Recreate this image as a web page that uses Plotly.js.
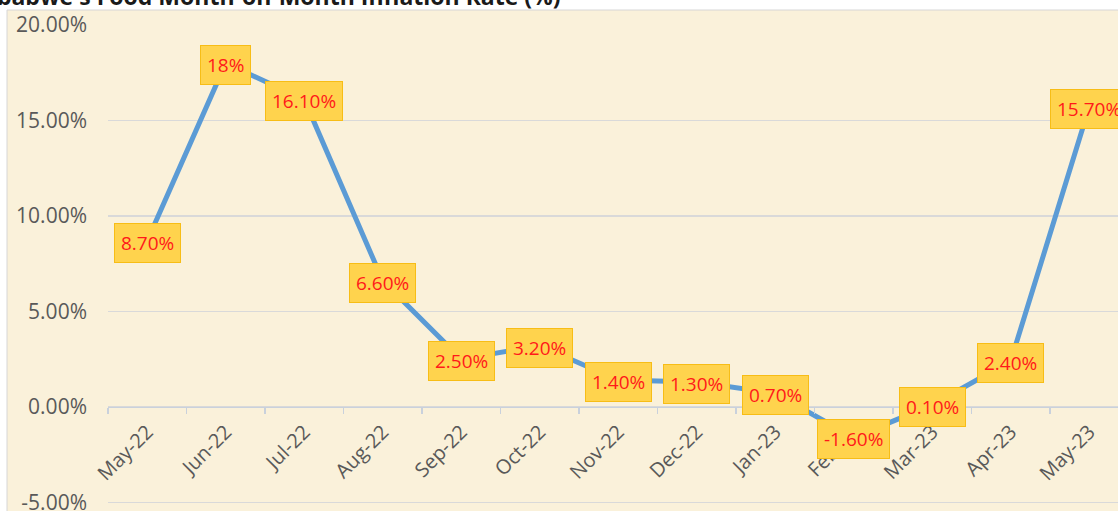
<!DOCTYPE html>
<html>
<head>
<meta charset="utf-8">
<script src="https://cdn.plot.ly/plotly-3.0.1.min.js"></script>
<style>
  html, body { margin: 0; padding: 0; background: #ffffff; }
  #chart { width: 1118px; height: 511px; }
</style>
</head>
<body>
<div id="chart"></div>
<script>
// ---- data ----
const months = ["May-22","Jun-22","Jul-22","Aug-22","Sep-22","Oct-22","Nov-22","Dec-22","Jan-23","Feb-23","Mar-23","Apr-23","May-23"];
const inflation = [8.7, 18, 16.1, 6.6, 2.5, 3.2, 1.4, 1.3, 0.7, -1.6, 0.1, 2.4, 15.7];
const dataLabels = ["8.70%","18%","16.10%","6.60%","2.50%","3.20%","1.40%","1.30%","0.70%","-1.60%","0.10%","2.40%","15.70%"];
const yTickVals = [-5, 0, 5, 10, 15, 20];
const yTickText = ["-5.00%","0.00%","5.00%","10.00%","15.00%","20.00%"];
const chartTitle = "Zimbabwe's Food Month-on-Month Inflation Rate (%)";

const yMin = -5.3, yMax = 20;

const trace = {
  type: "scatter",
  mode: "lines",
  x: months,
  y: inflation,
  line: { color: "#5b9bd5", width: 5 },
  hoverinfo: "skip",
  showlegend: false
};

const labelAnnotations = months.map((m, i) => ({
  x: m,
  y: inflation[i],
  xref: "x",
  yref: "y",
  yshift: -2,
  text: dataLabels[i],
  showarrow: false,
  xanchor: "center",
  yanchor: "middle",
  font: { family: "Open Sans, sans-serif", size: 19, color: "#ff1a1a" },
  bgcolor: "#ffd34d",
  bordercolor: "#f7bd16",
  borderwidth: 1,
  borderpad: 6
}));

const titleAnnotation = {
  xref: "paper", yref: "paper",
  x: (563 - 108) / 1010, y: 1 + 11 / 483,
  xanchor: "right", yanchor: "bottom",
  text: "<b>" + chartTitle + "</b>",
  showarrow: false,
  font: { family: "Open Sans, sans-serif", size: 23, color: "#1a1a1a" }
};

const layout = {
  width: 1118,
  height: 511,
  margin: { l: 108, r: 0, t: 25, b: 3, pad: 0 },
  paper_bgcolor: "#ffffff",
  plot_bgcolor: "rgba(0,0,0,0)",
  showlegend: false,
  xaxis: {
    type: "category",
    categoryorder: "array",
    categoryarray: months,
    range: [-0.5, 12.5 - 10.5 / 78.6],
    anchor: "free",
    position: (0 - yMin) / (yMax - yMin),
    showgrid: false,
    zeroline: false,
    showline: true,
    linecolor: "#c9d1dc",
    linewidth: 1.5,
    ticks: "outside",
    tickson: "boundaries",
    ticklen: 6,
    tickcolor: "#c9d1dc",
    tickwidth: 1.5,
    tickangle: -45,
    ticklabelstandoff: 4,
    tickfont: { family: "Open Sans, sans-serif", size: 20, color: "#595959" },
    fixedrange: true
  },
  yaxis: {
    range: [yMin, yMax],
    tickvals: yTickVals,
    ticktext: yTickText,
    showgrid: true,
    gridcolor: "#d9d9d9",
    gridwidth: 1.5,
    zeroline: false,
    showline: false,
    ticks: "",
    ticklabelstandoff: 20,
    ticklabeloverflow: "allow",
    tickfont: { family: "Open Sans, sans-serif", size: 21, color: "#595959" },
    fixedrange: true
  },
  shapes: [{
    type: "rect",
    xref: "paper", yref: "paper",
    x0: (7 - 108) / 1010, x1: 1.05,
    y0: -0.1, y1: 1 + 15 / 483,
    fillcolor: "#faf1da",
    line: { color: "#d6d6d6", width: 1 },
    layer: "below"
  }],
  annotations: [titleAnnotation].concat(labelAnnotations)
};

Plotly.newPlot("chart", [trace], layout, { displayModeBar: false, staticPlot: true });
</script>
</body>
</html>
